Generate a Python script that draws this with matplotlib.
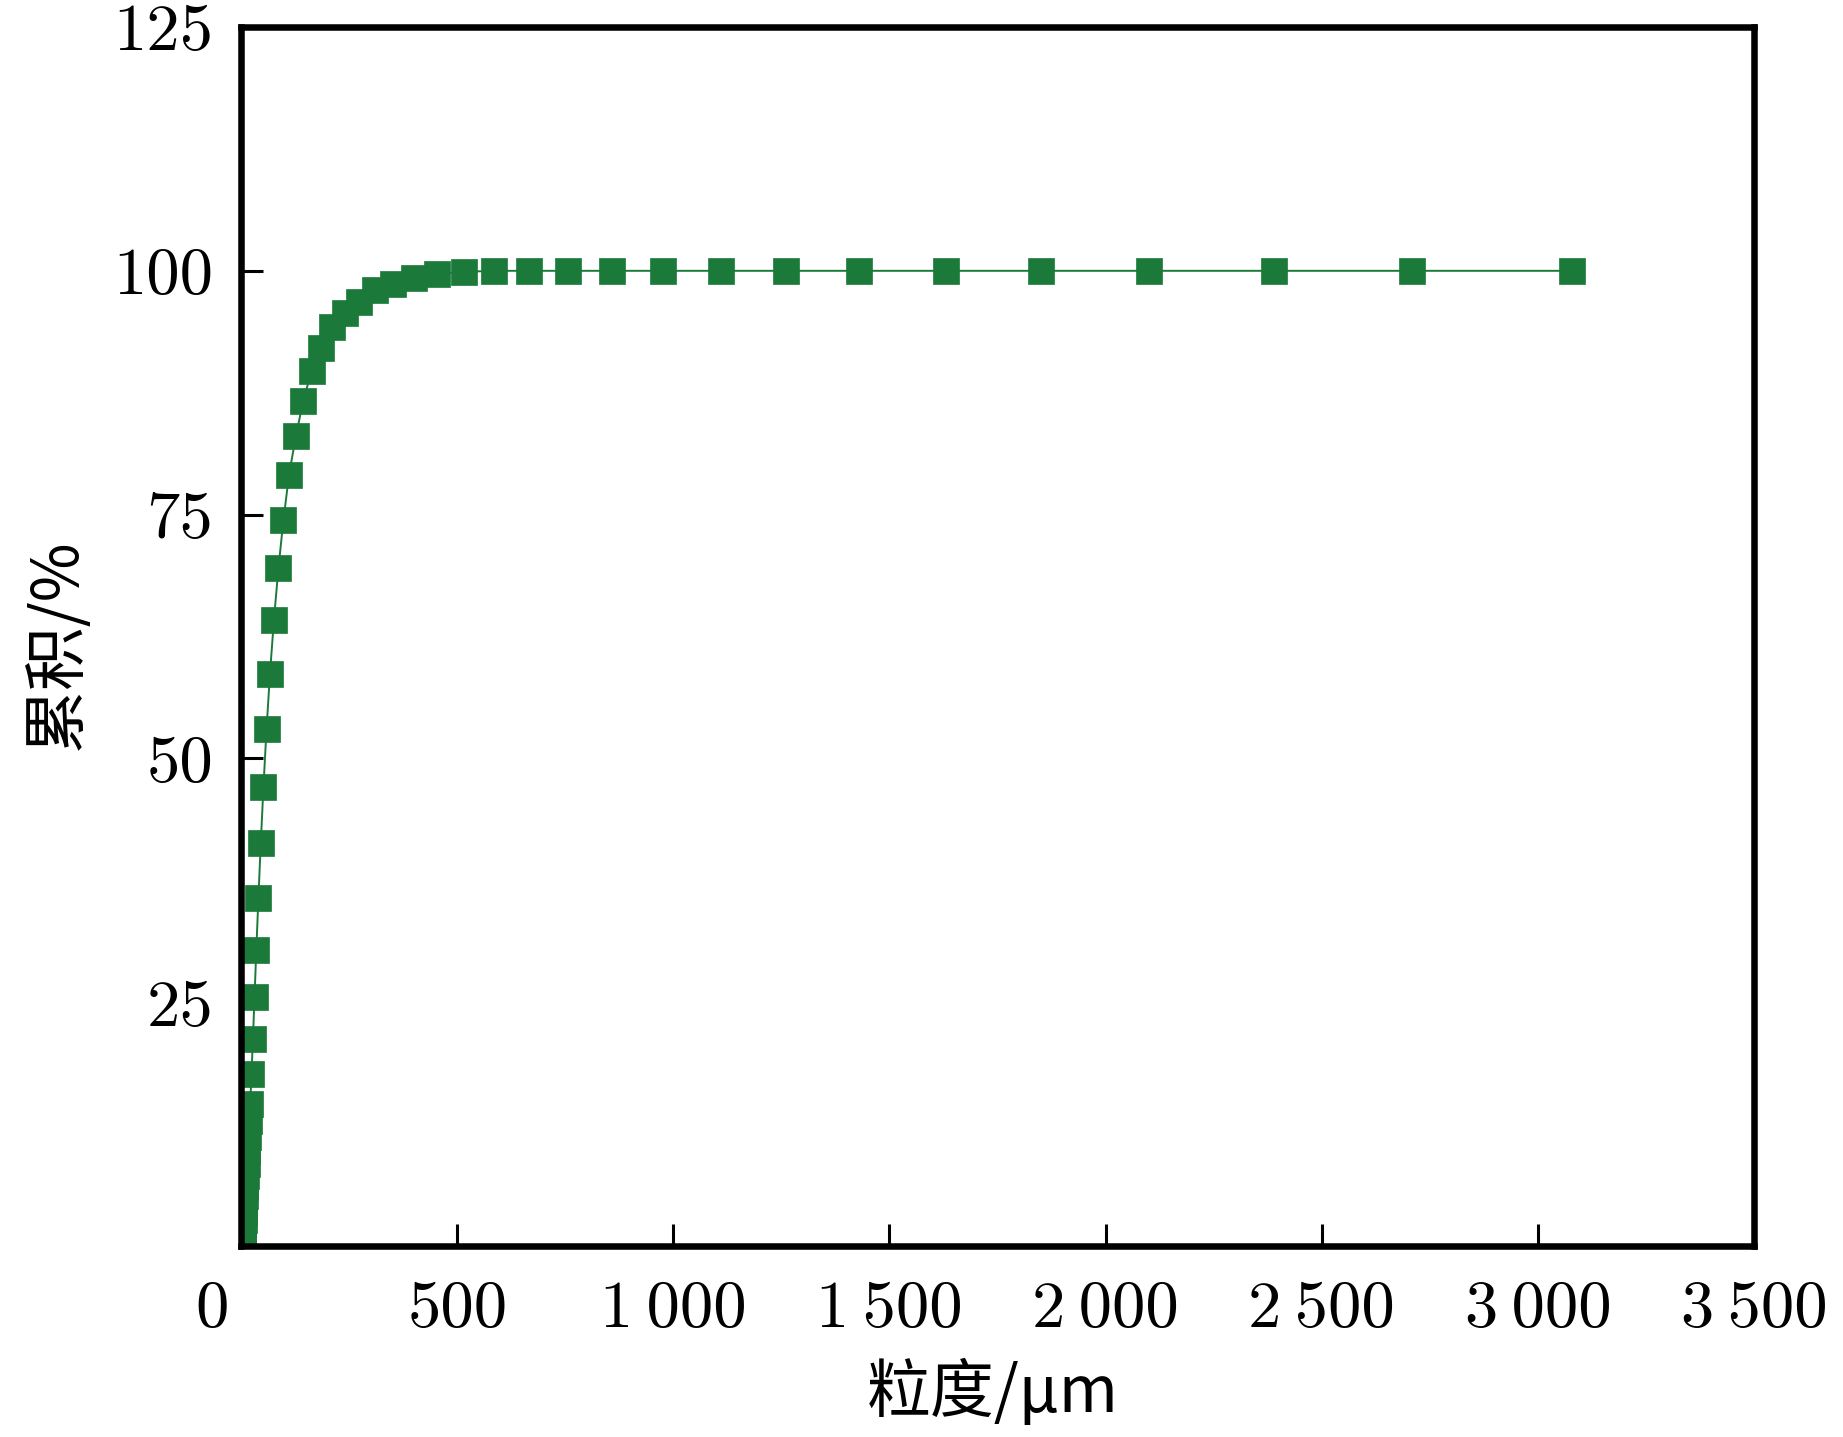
import matplotlib.pyplot as plt
from matplotlib.transforms import ScaledTranslation

# particle size classes (um), largest first
size_um = [3080, 2710, 2390, 2100, 1850, 1630, 1430, 1260, 1110, 976,
           859, 756, 666, 586, 516, 454, 400, 352, 310, 272,
           240, 211, 186, 163, 144, 127, 111, 97.9, 86.4, 76.0,
           66.9, 58.9, 51.8, 45.6, 40.1, 35.3, 31.1, 27.4, 24.1, 21.2,
           18.7, 16.4, 14.5, 12.7, 11.2, 9.86, 8.68, 7.64, 6.72, 5.92,
           5.21, 4.58, 4.04, 3.55, 3.12, 2.75, 2.42, 2.13, 1.88, 1.65,
           1.45, 1.28, 1.12, 0.991]
# cumulative volume (%)
cumulative = [100, 100, 100, 100, 100, 100, 100, 100, 100, 100,
              100, 100, 100, 100, 99.9, 99.7, 99.3, 98.6, 98.0, 96.8,
              95.7, 94.2, 92.1, 89.7, 86.7, 83.1, 79.1, 74.4, 69.5, 64.2,
              58.7, 53.0, 47.1, 41.3, 35.7, 30.4, 25.5, 21.2, 17.6, 14.6,
              12.8, 11.2, 9.7, 8.4, 7.2, 6.1, 5.1, 4.2, 3.4, 2.7,
              2.1, 1.6, 1.2, 0.85, 0.6, 0.4, 0.25, 0.15, 0.08, 0.04,
              0.02, 0.01, 0, 0]

x_ticks = [0, 500, 1000, 1500, 2000, 2500, 3000, 3500]
x_tick_labels = ["0", "500", "1\u2009000", "1\u2009500", "2\u2009000",
                 "2\u2009500", "3\u2009000", "3\u2009500"]
y_ticks = [25, 50, 75, 100, 125]
y_tick_labels = ["25", "50", "75", "100", "125"]

green = "#1b7a3a"
num_font = ["cmr10", "DejaVu Serif"]
cjk_font = ["Noto Sans CJK SC", "DejaVu Sans"]

fig = plt.figure(figsize=(18.43, 14.37), dpi=100)
ax = fig.add_axes([0.1308, 0.1329, 0.8209, 0.8483])

ax.plot(size_um, cumulative, color=green, lw=1.4, marker="s", ms=18.5,
        mfc=green, mec=green, mew=0.5)

ax.set_xlim(0, 3500)
ax.set_ylim(0, 125)
ax.set_xticks(x_ticks, labels=x_tick_labels, fontsize=48, family=num_font)
ax.set_yticks(y_ticks, labels=y_tick_labels, fontsize=48, family=num_font)
ax.tick_params(direction="in", length=16, width=2.2, top=False, right=False)
ax.tick_params(axis="x", pad=25)
ax.tick_params(axis="y", pad=20)

# the "0" under the x axis sits left of its tick in the original
zero_label = ax.get_xticklabels()[0]
zero_label.set_transform(zero_label.get_transform()
                         + ScaledTranslation(-0.29, 0, fig.dpi_scale_trans))

for side in ax.spines.values():
    side.set_linewidth(4.7)

ax.set_xlabel("粒度/μm", fontsize=46, family=cjk_font, va="center")
ax.xaxis.set_label_coords(0.497, -0.1206)
ax.set_ylabel("累积/%", fontsize=46, family=cjk_font, va="center")
ax.yaxis.set_label_coords(-0.1216, 0.494)

fig.savefig("out.png", dpi=100)
